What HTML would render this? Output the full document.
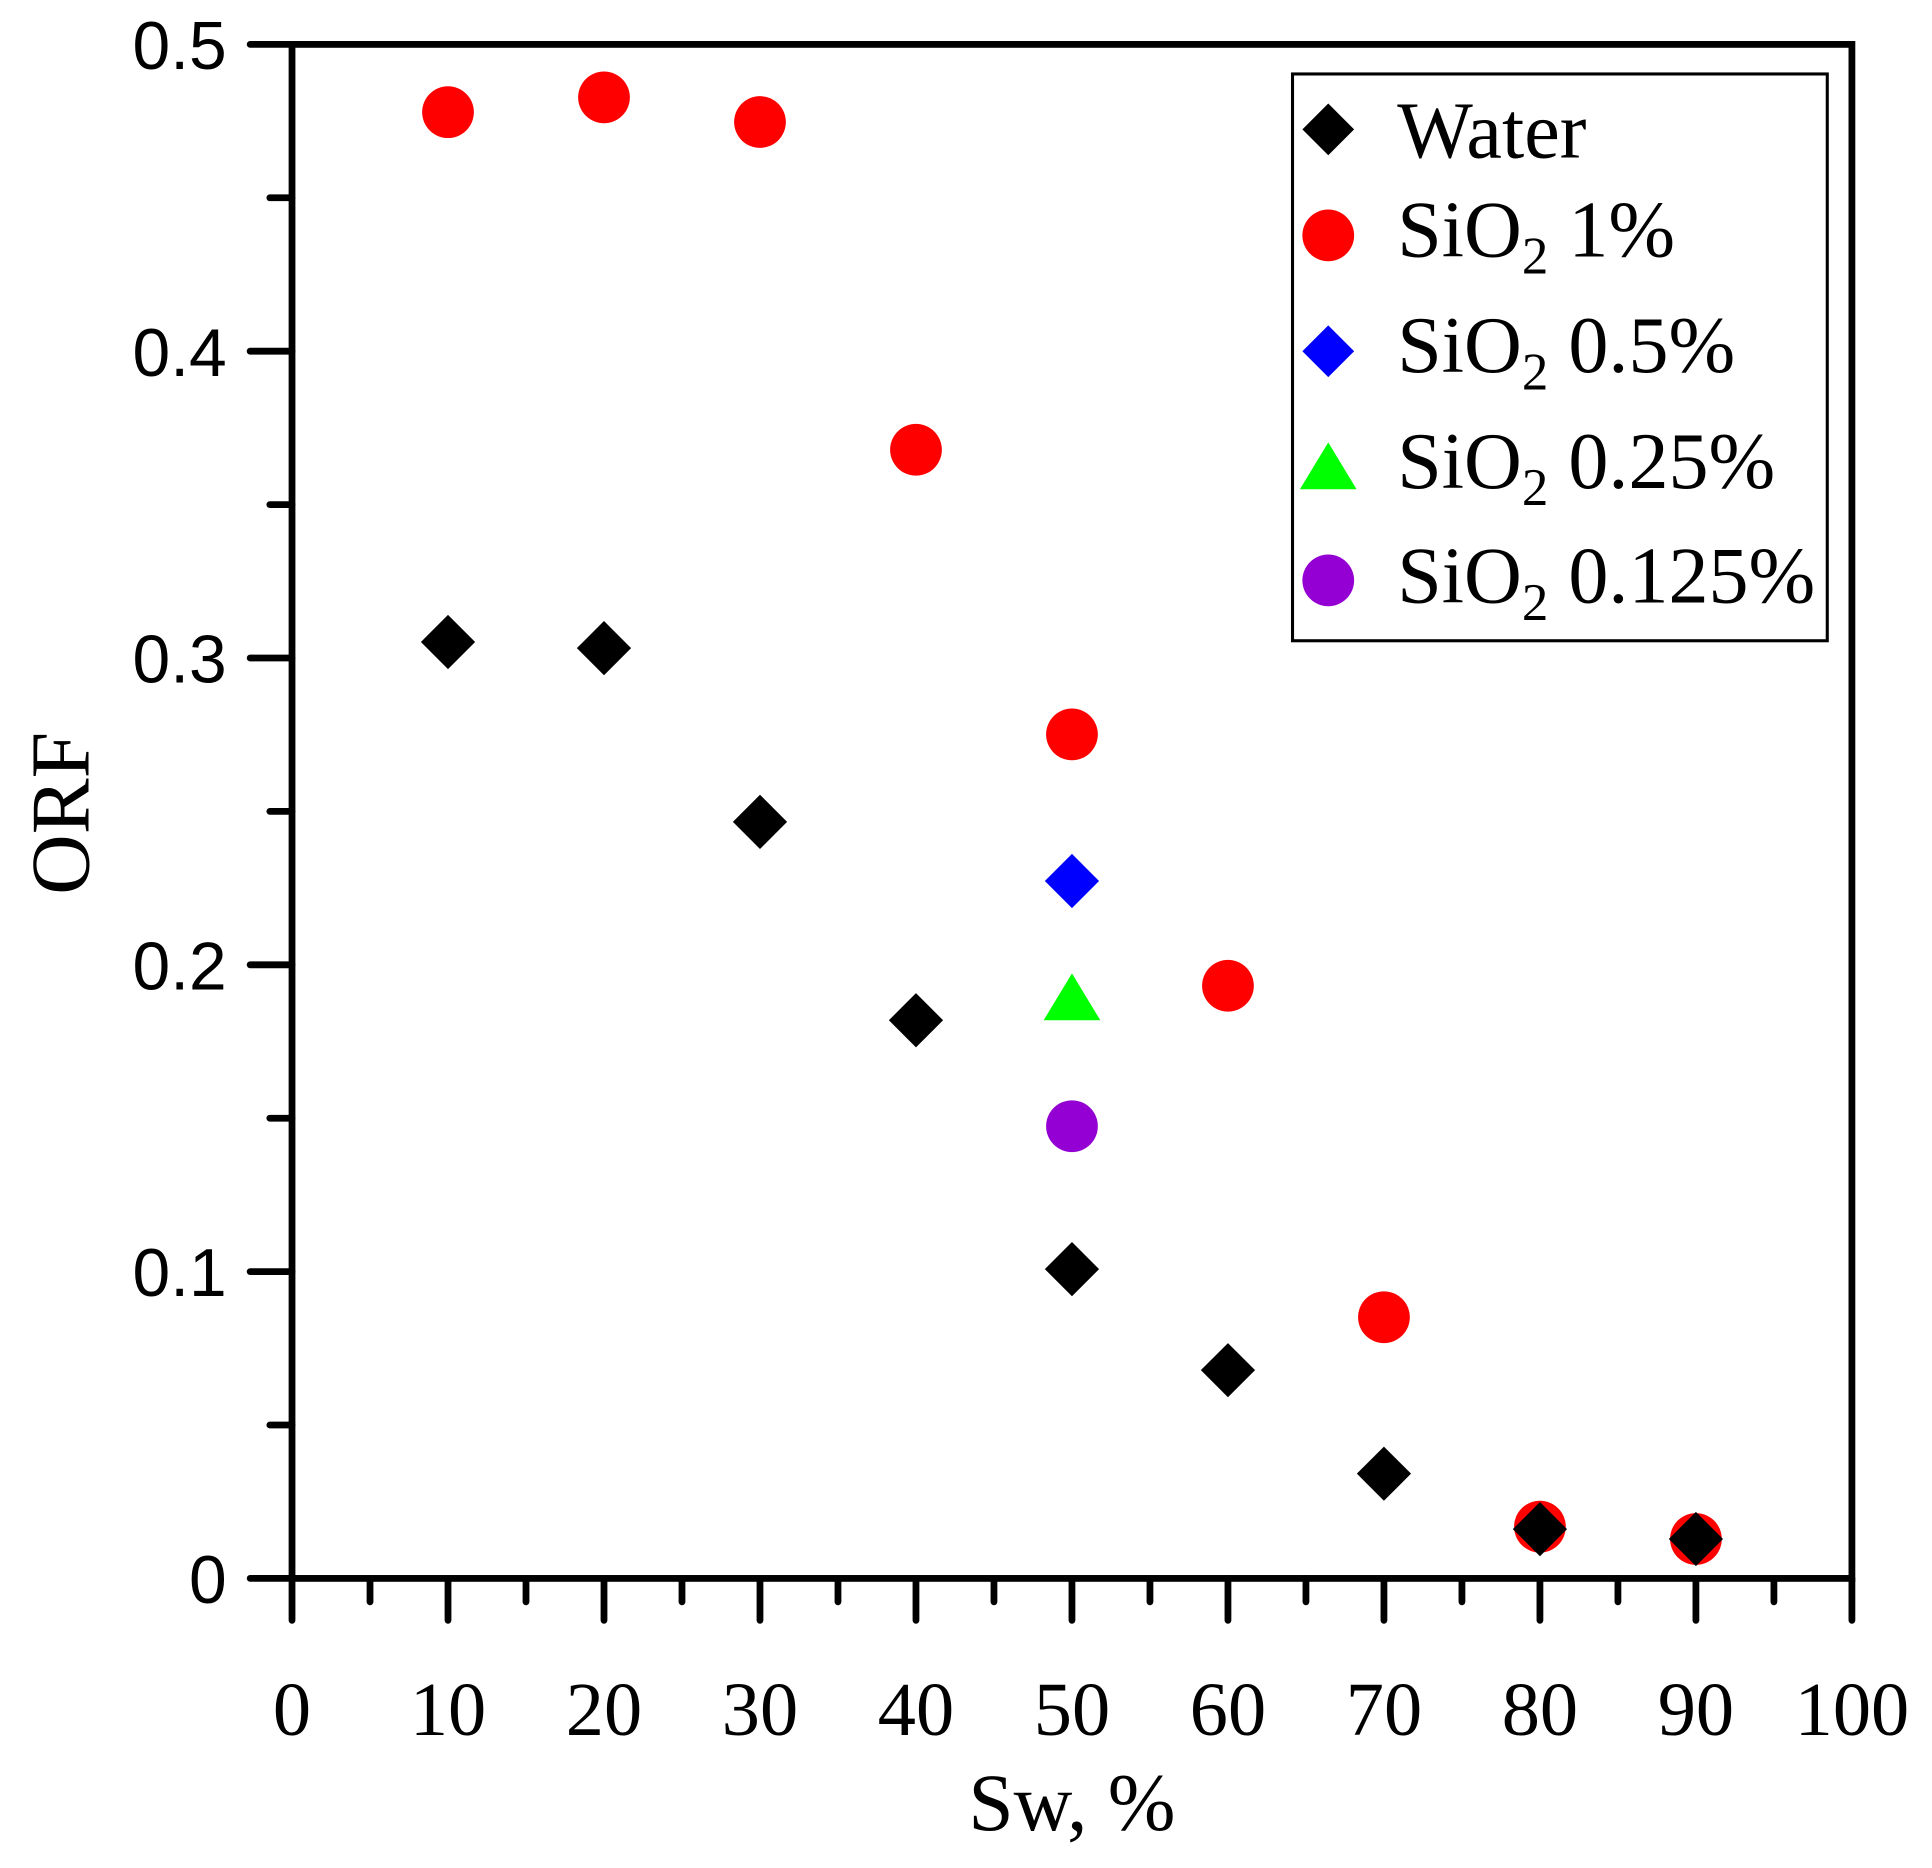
<!DOCTYPE html>
<html><head><meta charset="utf-8"><style>html,body{margin:0;padding:0;background:#fff}svg{display:block}</style></head>
<body>
<svg width="1932" height="1868" viewBox="0 0 1568 1516" xmlns="http://www.w3.org/2000/svg">
<rect width="1568" height="1516" fill="#fff"/>
<g stroke="#000" stroke-width="5.5" stroke-linecap="round" fill="none">
<rect x="237" y="36" width="1266" height="1245"/>
<path d="M203 36H237M203 285H237M203 534H237M203 783H237M203 1032H237M203 1281H237"/>
<path d="M219 160.5H237M219 409.5H237M219 658.5H237M219 907.5H237M219 1156.5H237"/>
<path d="M237 1281V1315M363.6 1281V1315M490.2 1281V1315M616.8 1281V1315M743.4 1281V1315M870 1281V1315M996.6 1281V1315M1123.2 1281V1315M1249.8 1281V1315M1376.4 1281V1315M1503 1281V1315"/>
<path d="M300.3 1281V1300M426.9 1281V1300M553.5 1281V1300M680.1 1281V1300M806.7 1281V1300M933.3 1281V1300M1059.9 1281V1300M1186.5 1281V1300M1313.1 1281V1300M1439.7 1281V1300"/>
</g>
<g font-family="Liberation Sans, sans-serif" font-size="55" text-anchor="end" fill="#000">
<text x="184" y="56">0.5</text><text x="184" y="305">0.4</text><text x="184" y="554">0.3</text>
<text x="184" y="803">0.2</text><text x="184" y="1052">0.1</text><text x="184" y="1301">0</text>
</g>
<g font-family="Liberation Serif, serif" font-size="62" text-anchor="middle" fill="#000">
<text x="237" y="1408">0</text><text x="363.6" y="1408">10</text><text x="490.2" y="1408">20</text><text x="616.8" y="1408">30</text><text x="743.4" y="1408">40</text><text x="870" y="1408">50</text><text x="996.6" y="1408">60</text><text x="1123.2" y="1408">70</text><text x="1249.8" y="1408">80</text><text x="1376.4" y="1408">90</text><text x="1503" y="1408">100</text>
<text x="870" y="1485" font-size="66">Sw, %</text>
<text transform="translate(72,660) rotate(-90)" font-size="68">ORF</text>
</g>
<g fill="#ff0000">
<circle cx="363.6" cy="91" r="21"/><circle cx="490.2" cy="79" r="21"/><circle cx="616.8" cy="99" r="21"/><circle cx="743.4" cy="365" r="21"/><circle cx="870" cy="596" r="21"/><circle cx="996.6" cy="800" r="21"/><circle cx="1123.2" cy="1069" r="21"/><circle cx="1249.8" cy="1239" r="21"/><circle cx="1376.4" cy="1249" r="21"/>
</g>
<g fill="#000">
<path d="M363.6 499l22 22-22 22-22-22z"/><path d="M490.2 504l22 22-22 22-22-22z"/><path d="M616.8 645l22 22-22 22-22-22z"/><path d="M743.4 806l22 22-22 22-22-22z"/><path d="M870 1008l22 22-22 22-22-22z"/><path d="M996.6 1090l22 22-22 22-22-22z"/><path d="M1123.2 1174l22 22-22 22-22-22z"/><path d="M1249.8 1219l22 22-22 22-22-22z"/><path d="M1376.4 1227l22 22-22 22-22-22z"/>
</g>
<path d="M870 693l22 22-22 22-22-22z" fill="#0000ff"/>
<path d="M870 790l23 38h-46z" fill="#00ff00"/>
<circle cx="870" cy="914" r="21" fill="#9400d3"/>
<rect x="1049" y="60" width="434" height="460" fill="#fff" stroke="#000" stroke-width="2.5"/>
<path d="M1078 84l21 21-21 21-21-21z" fill="#000"/>
<circle cx="1078" cy="191" r="21" fill="#ff0000"/>
<path d="M1078 264l21 21-21 21-21-21z" fill="#0000ff"/>
<path d="M1078 359l23 38h-46z" fill="#00ff00"/>
<circle cx="1078" cy="471" r="21" fill="#9400d3"/>
<g font-family="Liberation Serif, serif" font-size="65" fill="#000">
<text x="1134" y="128">Water</text>
<text x="1134" y="208">SiO<tspan font-size="43" dy="14">2</tspan><tspan dy="-14"> 1%</tspan></text>
<text x="1134" y="302">SiO<tspan font-size="43" dy="14">2</tspan><tspan dy="-14"> 0.5%</tspan></text>
<text x="1134" y="396">SiO<tspan font-size="43" dy="14">2</tspan><tspan dy="-14"> 0.25%</tspan></text>
<text x="1134" y="489">SiO<tspan font-size="43" dy="14">2</tspan><tspan dy="-14"> 0.125%</tspan></text>
</g>
</svg>
</body></html>
